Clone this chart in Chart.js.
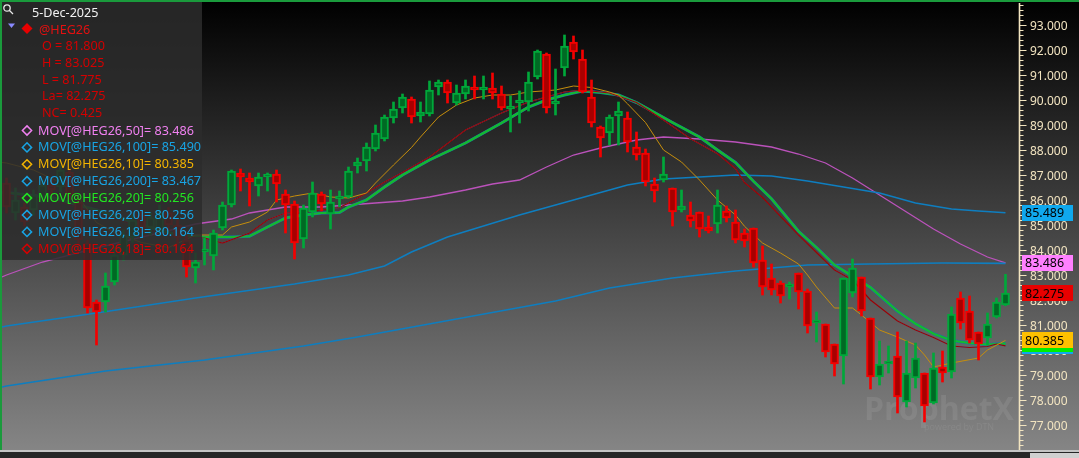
<!DOCTYPE html>
<html><head><meta charset="utf-8">
<script src="https://cdn.jsdelivr.net/npm/chart.js@4.4.1/dist/chart.umd.min.js"></script>
<style>
html,body{margin:0;padding:0;background:#000;overflow:hidden;}
canvas{display:block;}
</style></head><body>
<canvas id="c" width="1079" height="458"></canvas>
<script>
// ---- candle data (index 0..111, last = 5-Dec-2025) ----
const openP = [86.68,85.48,85.72,85.6,86.12,86.6,86.52,87.12,85.92,84.28,
81.92,81.92,82.72,83.8,84.5,85.4,84.9,84.8,85.5,85.0,
84.4,83.28,83.92,83.76,84.88,85.8,87.08,86.88,86.56,86.92,
87.04,86.24,85.84,84.44,85.52,86.24,85.44,86.04,86.12,87.36,
87.56,88.04,88.44,89.28,89.68,90.04,89.36,89.44,90.52,90.72,
89.88,90.24,90.48,90.4,90.48,90.24,89.64,89.88,89.92,90.92,
91.84,89.84,91.28,92.32,91.64,90.12,88.92,88.68,89.36,89.28,
88.12,87.88,86.64,86.8,86.48,85.6,85.4,85.52,84.92,85.04,
85.56,85.12,84.68,84.88,83.6,82.88,82.68,82.52,83.08,82.36,
81.08,81.04,80.24,79.76,82.28,82.92,81.28,78.92,79.44,79.76,
77.92,78.88,79.08,77.88,79.32,79.12,82.08,81.56,80.72,80.48,
81.32,81.8];
const highP = [86.88,86.48,85.88,86.4,86.8,86.8,87.4,87.28,86.08,84.4,
82.0,83.08,84.12,84.8,85.4,85.6,85.5,85.8,85.7,85.2,
84.6,83.88,84.48,84.8,85.92,87.2,87.24,87.08,87.08,87.08,
87.2,86.4,85.96,85.8,86.72,86.32,86.4,86.36,87.32,87.68,
88.28,89.0,89.4,89.92,90.24,90.12,89.92,90.76,90.8,90.8,
90.6,90.8,90.96,90.96,91.08,90.56,90.16,90.36,91.12,92.0,
91.88,91.24,92.6,92.56,92.0,90.8,88.96,89.4,89.92,89.52,
88.72,88.04,86.88,87.72,86.48,86.4,85.92,85.52,85.36,86.4,
85.76,85.6,84.84,84.88,84.16,83.44,82.76,82.72,83.08,82.44,
81.52,81.04,80.24,82.88,83.64,82.92,81.28,80.36,80.16,80.72,
80.36,80.28,79.08,79.88,79.96,81.72,82.32,82.16,80.72,81.48,
82.08,83.025];
const lowP = [85.48,85.2,84.96,85.4,85.9,86.2,86.32,86.0,84.2,81.48,
80.2,81.52,82.6,83.6,84.3,84.7,84.6,84.6,84.8,84.2,
82.92,82.68,83.4,83.2,84.8,85.72,86.36,85.76,86.16,86.36,
85.92,84.68,83.64,84.08,85.32,85.56,84.84,85.72,86.08,87.08,
87.16,87.96,88.36,89.08,89.48,89.08,89.12,89.36,90.2,89.88,
89.8,90.04,90.04,90.04,90.04,89.6,88.72,89.08,89.56,90.84,
89.48,89.4,90.96,91.64,90.28,88.92,87.72,88.2,88.2,87.92,
87.6,86.56,85.92,86.72,84.96,85.52,84.92,84.52,84.68,84.68,
85.12,84.28,84.12,83.32,82.2,82.2,81.88,82.04,81.64,80.68,
80.32,79.72,78.96,78.64,82.12,81.36,78.44,78.6,79.08,77.48,
77.72,78.48,77.12,77.84,78.72,78.88,80.84,80.28,79.6,80.2,
81.28,81.775];
const closeP = [85.72,86.0,85.12,86.2,86.6,86.4,87.2,86.2,84.4,81.68,
81.52,82.56,83.8,84.6,85.2,84.9,85.3,85.5,85.0,84.5,
83.32,83.52,84.0,84.68,85.8,87.16,86.92,86.72,86.92,86.96,
86.64,85.8,84.28,85.68,86.28,85.84,85.92,86.12,87.16,87.52,
88.12,88.68,89.32,89.64,90.12,89.32,89.52,90.4,90.72,90.28,
90.28,90.56,90.4,90.48,90.28,89.68,89.72,90.0,90.72,91.96,
89.68,89.96,92.16,91.92,90.32,89.08,88.48,89.32,89.56,88.32,
87.8,86.72,86.36,87.04,85.52,85.76,85.16,84.84,84.76,85.8,
85.28,84.4,84.36,83.48,82.52,82.4,82.16,82.6,82.32,80.96,
81.16,79.92,79.44,82.88,83.28,81.56,78.92,79.44,79.52,78.12,
79.08,79.68,77.76,79.28,79.08,81.44,81.08,80.4,80.24,81.04,
81.92,82.275];

// ---- moving averages: [candle index, value] ----
const ma50 = [[-0.5,82.92],[0,83.0],[4,83.52],[10,84.08],[16,84.6],[21,85.04],[25,85.24],[27,85.48],[31,85.72],[35,85.72],[38,85.8],[41,85.88],[44,85.96],[47,86.12],[51,86.4],[54,86.64],[57,86.8],[60,87.32],[63,87.8],[66,88.08],[70,88.4],[73,88.52],[77,88.44],[81,88.32],[85,88.12],[88,87.84],[91,87.48],[94,86.88],[97,86.2],[100,85.52],[103,84.84],[106,84.24],[109,83.72],[111,83.486]];
const ma100 = [[-0.5,80.92],[0,80.96],[10,81.48],[21,82.08],[32,82.64],[38,83.0],[42,83.36],[45,83.92],[49,84.52],[53,84.96],[57,85.4],[61,85.8],[65,86.2],[69,86.6],[73,86.84],[77,86.92],[81,87.0],[85,86.96],[89,86.76],[93,86.52],[97,86.28],[101,85.88],[105,85.64],[108,85.56],[111,85.489]];
const ma200 = [[-0.5,78.52],[0,78.56],[11,79.16],[22,79.6],[33,80.16],[39,80.52],[50,81.24],[61,81.96],[67,82.48],[74,82.88],[81,83.16],[89,83.4],[96,83.44],[104,83.48],[111,83.467]];
const ma10 = [[-0.5,87.5],[0,87.48],[3,87.2],[6,86.7],[8,86.12],[10,85.1],[12,84.7],[15,84.3],[18,84.1],[21,84.6],[24,84.6],[25,84.92],[27,85.12],[29,85.52],[30,86.0],[32,86.16],[34,86.28],[36,86.12],[38,86.08],[40,86.28],[41,86.68],[43,87.4],[45,88.1],[46,88.52],[48,89.32],[50,89.8],[52,90.08],[54,90.2],[56,90.2],[58,90.32],[61,90.4],[63,90.56],[65,90.5],[67,90.32],[68,90.2],[69,89.85],[71,89.1],[73,88.0],[75,87.52],[77,86.8],[79,86.0],[81,85.4],[82,84.95],[84,84.28],[86,83.88],[88,83.44],[89,83.0],[90,82.52],[92,81.68],[94,81.68],[95,81.4],[97,80.8],[99,80.52],[101,80.2],[102,79.8],[103,79.32],[105,79.48],[108,79.68],[109,80.0],[111,80.385]];
const ma20 = [[-0.5,86.3],[0,86.3],[5,86.1],[10,85.6],[15,85.0],[19,84.6],[22,84.52],[25,84.52],[27,84.55],[29,84.92],[31,85.28],[33,85.4],[35,85.48],[37,85.5],[38,85.72],[40,86.0],[42,86.52],[44,87.0],[47,87.6],[51,88.28],[55,89.08],[58,89.72],[60,90.0],[62,90.2],[64,90.36],[66,90.3],[68,90.2],[70,89.9],[72,89.5],[74,89.1],[77,88.52],[79,88.0],[81,87.5],[83,86.75],[85,86.05],[88,84.75],[90,84.1],[92,83.4],[94,82.95],[96,82.5],[99,81.55],[101,81.05],[103,80.65],[105,80.38],[107,80.28],[109,80.22],[111,80.256]];
const ma18 = [[-0.5,86.2],[0,86.2],[5,86.0],[10,85.5],[15,84.9],[19,84.5],[22,84.48],[24,84.28],[27,84.68],[29,85.2],[31,85.48],[33,85.52],[35,85.6],[37,85.7],[38,85.88],[40,86.28],[42,86.72],[44,87.1],[47,87.72],[51,88.8],[55,89.48],[58,89.92],[62,90.32],[64,90.4],[67,90.28],[70,89.9],[73,89.2],[76,88.45],[79,87.85],[81,87.25],[82,86.7],[84,86.1],[86,85.35],[88,84.6],[90,83.9],[92,83.2],[94,82.8],[96,82.0],[99,81.16],[101,80.8],[103,80.5],[105,80.16],[107,80.1],[109,80.14],[110,80.24],[111,80.164]];

// ---- texts ----
const dateLabel = '5-Dec-2025';
const symbol = '@HEG26';
const quoteLines = ['O = 81.800','H = 83.025','L = 81.775','La= 82.275','NC= 0.425'];
const studyLines = [
  ['MOV[@HEG26,50]= 83.486','#f080f0'],
  ['MOV[@HEG26,100]= 85.490','#18a4e4'],
  ['MOV[@HEG26,10]= 80.385','#f4b400'],
  ['MOV[@HEG26,200]= 83.467','#18a4e4'],
  ['MOV[@HEG26,20]= 80.256','#22e622'],
  ['MOV[@HEG26,20]= 80.256','#18a4e4'],
  ['MOV[@HEG26,18]= 80.164','#18a4e4'],
  ['MOV[@HEG26,18]= 80.164','#d80000']
];
// right axis value tags: [value, text, bg]
const valueTags = [
  [83.467,'83.467','#10a8ee'],
  [80.164,'80.164','#10a8ee'],
  [80.256,'80.256','#00ee00'],
  [85.489,'85.489','#10a8ee'],
  [83.486,'83.486','#ff80ff'],
  [82.275,'82.275','#e80000'],
  [80.385,'80.385','#ffc000']
];

const up = i => closeP[i] >= openP[i];
const bodies = openP.map((o,i)=>({x:i, y:[o, closeP[i]]}));
const wicks = openP.map((o,i)=>({x:i, y:[lowP[i], highP[i]]}));
const pts = a => a.map(([x,y])=>({x,y}));

const AXIS_COL = '#f2e4c0';
const FONT = '"Noto Sans", "Open Sans", sans-serif';

const bgPlugin = {
  id:'bg',
  beforeDraw(chart){
    const {ctx,width,height} = chart;
    const g = ctx.createLinearGradient(0,0,0,450);
    g.addColorStop(0,'#000000');
    g.addColorStop(1,'#858585');
    ctx.save(); ctx.fillStyle = g; ctx.fillRect(0,0,width,height);
    // watermark
    ctx.font = 'bold 32px "Open Sans", sans-serif';
    ctx.fillStyle = 'rgba(175,175,175,0.2)';
    ctx.textBaseline = 'alphabetic';
    ctx.fillText('ProphetX', 864, 420);
    ctx.font = '9px "Open Sans", sans-serif';
    ctx.fillText('powered by DTN', 924, 430);
    ctx.restore();
  }
};

function diamond(ctx, cx, cy, r, fill, color){
  ctx.beginPath();
  ctx.moveTo(cx, cy-r); ctx.lineTo(cx+r, cy); ctx.lineTo(cx, cy+r); ctx.lineTo(cx-r, cy); ctx.closePath();
  if (fill){ ctx.fillStyle = color; ctx.fill(); }
  else { ctx.strokeStyle = color; ctx.lineWidth = 1.5; ctx.stroke(); }
}

const overlayPlugin = {
  id:'overlay',
  afterDraw(chart){
    const {ctx} = chart;
    const ys = chart.scales.y;
    const ca = chart.chartArea;
    ctx.save();
    // axis line + ticks
    const x0 = Math.round(ys.left) + 0.5;
    ctx.strokeStyle = AXIS_COL;
    ctx.lineWidth = 1.6;
    ctx.beginPath(); ctx.moveTo(x0, ca.top); ctx.lineTo(x0, ca.bottom); ctx.stroke();
    ctx.lineWidth = 1;
    for (let k = 0; k <= 95; k++){
      const v = 76 + k*0.2;
      if (v > ys.max) break;
      const py = Math.round(ys.getPixelForValue(v)) + 0.5;
      const major = k % 5 === 0;
      ctx.beginPath(); ctx.moveTo(x0, py); ctx.lineTo(x0 + (major ? 7 : 4), py); ctx.stroke();
    }
    // value tags
    ctx.font = '12.5px ' + FONT;
    ctx.textBaseline = 'middle';
    valueTags.forEach(([v,t,c])=>{
      const py = ys.getPixelForValue(v);
      ctx.fillStyle = c;
      ctx.fillRect(1022, Math.round(py-8), 51, 16);
      ctx.fillStyle = '#000';
      ctx.fillText(t, 1025, py+1);
    });
    // legend panel
    ctx.fillStyle = 'rgba(44,44,44,0.86)';
    ctx.fillRect(2, 2, 200, 258);
    // magnifier
    ctx.strokeStyle = '#e8e8e8'; ctx.lineWidth = 1.3;
    ctx.beginPath(); ctx.arc(7, 8, 3.2, 0, Math.PI*2); ctx.stroke();
    ctx.beginPath(); ctx.moveTo(9.5, 10.5); ctx.lineTo(13, 14); ctx.stroke();
    // triangle
    ctx.fillStyle = '#8a8aff';
    ctx.beginPath(); ctx.moveTo(8, 23.5); ctx.lineTo(15, 23.5); ctx.lineTo(11.5, 28); ctx.closePath(); ctx.fill();
    diamond(ctx, 27, 28.5, 5.5, true, '#e80000');
    ctx.font = '12.6px ' + FONT;
    ctx.textBaseline = 'middle';
    ctx.fillStyle = '#f2f2f2';
    ctx.fillText(dateLabel, 32, 13);
    ctx.fillStyle = '#e41010';
    ctx.fillText(symbol, 39, 30);
    ctx.fillStyle = '#d40000';
    quoteLines.forEach((t,k)=> ctx.fillText(t, 42, 46.5 + k*16.8));
    studyLines.forEach(([t,c],k)=>{
      const yy = 130.5 + k*16.9;
      diamond(ctx, 27, yy, 4.6, false, c);
      ctx.fillStyle = c;
      ctx.fillText(t, 38, yy + 0.5);
    });
    // frame
    ctx.fillStyle = '#1a9a3c';
    ctx.fillRect(0, 0, chart.width, 2);
    ctx.fillRect(0, 0, 2, 450);
    ctx.fillStyle = '#c4c4c4';
    ctx.fillRect(0, 450, chart.width, 2);
    ctx.fillStyle = '#262626';
    ctx.fillRect(0, 452, chart.width, 6);
    ctx.fillStyle = '#d0d0d0';
    ctx.fillRect(1030, 453, 49, 5);
    ctx.restore();
  }
};

const lineDs = (label, data, color, width, order, dash) => ({
  type:'line', label, data: pts(data), borderColor: color, borderWidth: width,
  pointRadius: 0, tension: 0, fill: false, order, borderDash: dash || []
});

new Chart(document.getElementById('c'), {
  type: 'bar',
  data: {
    datasets: [
      { type:'bar', label:'body', data: bodies, barThickness: 8, grouped: false, order: 0,
        backgroundColor: c => up(c.dataIndex) ? '#006a24' : '#a80000',
        borderColor: c => up(c.dataIndex) ? '#00a83a' : '#f40000',
        borderWidth: 2, borderSkipped: false, minBarLength: 3 },
      { type:'bar', label:'wick', data: wicks, barThickness: 2, grouped: false, order: 1,
        backgroundColor: c => up(c.dataIndex) ? '#00a83a' : '#f40000', borderWidth: 0 },
      lineDs('MOV50', ma50, '#bb52bb', 1.3, 9),
      lineDs('MOV100', ma100, '#0e7ec0', 1.6, 8),
      lineDs('MOV200', ma200, '#0e7ec0', 1.6, 7),
      lineDs('MOV20b', ma20, '#1672a8', 3.0, 6),
      lineDs('MOV20', ma20, '#14ba2e', 2.2, 5),
      lineDs('MOV18b', ma18, '#1480c8', 1, 4),
      lineDs('MOV18', ma18, '#a00000', 1.2, 3),
      lineDs('MOV10', ma10, '#c68e0c', 1, 2)
    ]
  },
  options: {
    responsive: false,
    animation: false,
    devicePixelRatio: 1,
    events: [],
    layout: { padding: { left: 2, right: 0, top: 3, bottom: 8 } },
    plugins: { legend: { display: false }, tooltip: { enabled: false } },
    scales: {
      x: { type: 'linear', min: -0.5, max: 112.5, display: false, offset: false },
      y: {
        position: 'right', min: 76, max: 93.88,
        grid: { display: false, drawTicks: false },
        border: { display: false },
        afterFit: s => { s.width = 60; s.paddingTop = 0; s.paddingBottom = 0; },
        ticks: {
          stepSize: 1, autoSkip: false, padding: 11, labelOffset: 2, color: AXIS_COL,
          font: { family: '"Noto Sans", sans-serif', size: 12 },
          callback: v => (Math.abs(v - Math.round(v)) < 1e-6 && v >= 77 && v <= 93) ? Number(v).toFixed(3) : ''
        }
      }
    }
  },
  plugins: [bgPlugin, overlayPlugin]
});
</script>
</body></html>
